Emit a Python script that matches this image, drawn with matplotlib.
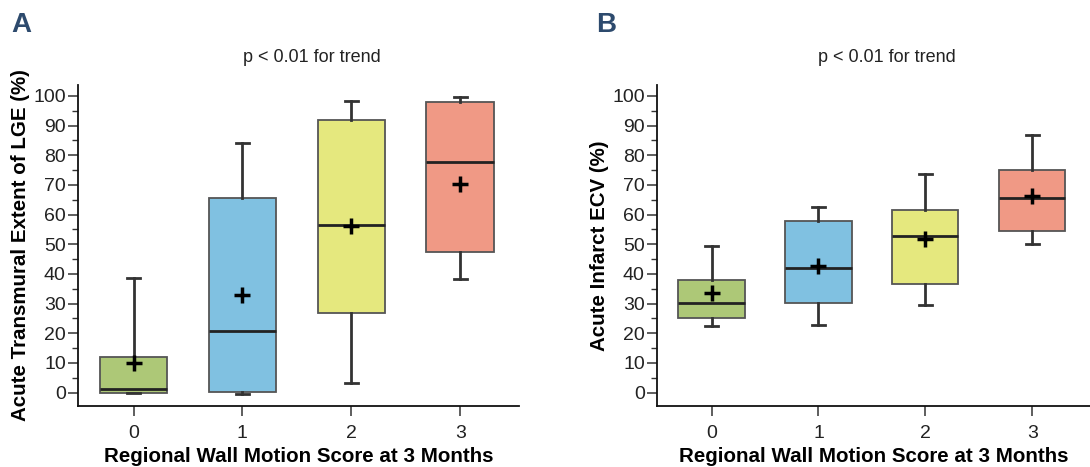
import matplotlib
matplotlib.use("Agg")
import matplotlib.pyplot as plt
from matplotlib.ticker import MultipleLocator

plt.rcParams['font.family'] = ['Liberation Sans', 'DejaVu Sans']

categories = ["0", "1", "2", "3"]
colors = ["#adc877", "#80c1e1", "#e5e87e", "#f09985"]

# Panel A: Acute transmural extent of LGE (%)
a_whislo = [0.0, -0.6, 3.4, 38.2]
a_q1 = [-0.2, 0.3, 26.7, 47.4]
a_med = [1.1, 20.9, 56.4, 77.6]
a_q3 = [12.1, 65.7, 91.9, 97.9]
a_whishi = [38.8, 84.3, 98.4, 99.8]
a_mean = [9.9, 32.8, 56.3, 70.4]

# Panel B: Acute infarct ECV (%)
b_whislo = [22.6, 22.8, 29.6, 50.0]
b_q1 = [25.1, 30.3, 36.5, 54.5]
b_med = [30.3, 42.1, 52.9, 65.7]
b_q3 = [38.1, 58.0, 61.6, 75.1]
b_whishi = [49.6, 62.5, 73.8, 86.9]
b_mean = [33.7, 42.8, 51.8, 66.4]

xlabel = "Regional Wall Motion Score at 3 Months"
ylabels = ["Acute Transmural Extent of LGE (%)", "Acute Infarct ECV (%)"]
subtitle = "p < 0.01 for trend"
panel_letters = ["A", "B"]

fig = plt.figure(figsize=(10.9, 4.67), dpi=100)
axA = fig.add_axes([78/1090, 1-406/467, (519-78)/1090, (406-85)/467])
axB = fig.add_axes([657/1090, 1-406/467, (1090-657)/1090, (406-85)/467])

def draw(ax, whislo, q1, med, q3, whishi, mean, ylabel):
    stats = []
    for i in range(len(categories)):
        stats.append(dict(whislo=whislo[i], q1=q1[i], med=med[i], q3=q3[i],
                          whishi=whishi[i], mean=mean[i], fliers=[], label=categories[i]))
    pos = list(range(len(categories)))
    bp = ax.bxp(stats, positions=pos, widths=0.62, patch_artist=True, showmeans=True,
                capwidths=0.12,
                boxprops=dict(edgecolor="#555555", linewidth=1.3),
                medianprops=dict(color="#222222", linewidth=2.0),
                whiskerprops=dict(color="#333333", linewidth=2.0),
                capprops=dict(color="#333333", linewidth=2.0),
                meanprops=dict(marker="+", markeredgecolor="black", markersize=12,
                               markeredgewidth=2.5))
    for patch, c in zip(bp['boxes'], colors):
        patch.set_facecolor(c)
    ax.set_xlim(-0.51, 3.54)
    ax.set_ylim(-4.5, 103.7)
    ax.yaxis.set_major_locator(MultipleLocator(10))
    ax.yaxis.set_minor_locator(MultipleLocator(5))
    ax.set_yticks(range(0, 101, 10))
    ax.set_xticks(pos)
    ax.set_xticklabels(categories)
    ax.spines['top'].set_visible(False)
    ax.spines['right'].set_visible(False)
    for s in ['left', 'bottom']:
        ax.spines[s].set_linewidth(1.3)
        ax.spines[s].set_color("#111111")
    ax.tick_params(axis='both', which='major', length=7, width=1.1, color="#333333",
                   labelsize=14, labelcolor="#222222")
    ax.tick_params(axis='y', which='minor', length=4, width=1.0, color="#333333")
    ax.tick_params(axis='y', which='major', pad=1.8)
    ax.tick_params(axis='x', which='major', pad=7)
    ax.set_xlabel(xlabel, fontsize=14.8, fontweight='bold', labelpad=3)
    ax.set_ylabel(ylabel, fontsize=14.8, fontweight='bold', labelpad=2)

draw(axA, a_whislo, a_q1, a_med, a_q3, a_whishi, a_mean, ylabels[0])
draw(axB, b_whislo, b_q1, b_med, b_q3, b_whishi, b_mean, ylabels[1])

fig.text(312/1090, 1-58/467, subtitle, ha='center', va='center', fontsize=13, color="#222222")
fig.text(887/1090, 1-58/467, subtitle, ha='center', va='center', fontsize=13, color="#222222")
fig.text(11/1090, 1-25/467, panel_letters[0], ha='left', va='center', fontsize=20,
         fontweight='bold', color="#2d4a6d")
fig.text(596/1090, 1-25/467, panel_letters[1], ha='left', va='center', fontsize=20,
         fontweight='bold', color="#2d4a6d")

fig.savefig("out.png", dpi=100)
